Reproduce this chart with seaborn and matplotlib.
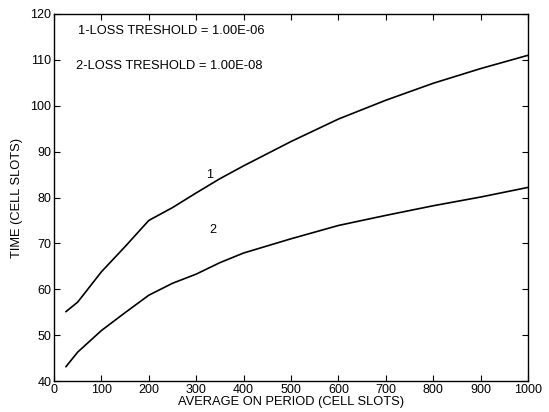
import matplotlib
matplotlib.use("Agg")
import matplotlib.pyplot as plt
import seaborn as sns
import pandas as pd

x_vals = [25, 50, 100, 150, 200, 250, 300, 350, 400, 500, 600, 700, 800, 900, 1000]
y_curve1 = [55.1, 57.2, 63.8, 69.3, 75.0, 77.8, 81.0, 84.1, 86.9, 92.2, 97.1, 101.2, 104.9, 108.1, 111.0]
y_curve2 = [43.1, 46.3, 51.0, 54.9, 58.7, 61.3, 63.3, 65.8, 67.9, 71.0, 73.9, 76.1, 78.2, 80.1, 82.2]
curve_names = ["1", "2"]
x_ticks = [0, 100, 200, 300, 400, 500, 600, 700, 800, 900, 1000]
y_ticks = [40, 50, 60, 70, 80, 90, 100, 110, 120]

df = pd.DataFrame({
    "x": x_vals * 2,
    "y": y_curve1 + y_curve2,
    "curve": [curve_names[0]] * len(x_vals) + [curve_names[1]] * len(x_vals),
})

sns.set_theme(style="ticks")
plt.rcParams["font.family"] = ["Liberation Sans", "DejaVu Sans"]
plt.rcParams["text.color"] = "black"
plt.rcParams["axes.labelcolor"] = "black"

fig = plt.figure(figsize=(5.49, 4.12), dpi=100)
ax = fig.add_axes([54 / 549, 31 / 412, 474 / 549, 367 / 412])

sns.lineplot(data=df, x="x", y="y", units="curve", estimator=None,
             color="black", linewidth=1.2, ax=ax, legend=False)

ax.set_xlim(0, 1000)
ax.set_ylim(40, 120)
ax.set_xticks(x_ticks)
ax.set_yticks(y_ticks)
ax.tick_params(direction="in", length=4, width=0.8, top=True, right=True,
               labelsize=9, colors="black", pad=2)
for s in ax.spines.values():
    s.set_visible(True)
    s.set_color("black")
    s.set_linewidth(1.0)

ax.set_xlabel("AVERAGE ON PERIOD (CELL SLOTS)", fontsize=9.3, labelpad=0, color="black")
ax.set_ylabel("TIME (CELL SLOTS)", fontsize=9.3, labelpad=5, color="black")

ax.text(51, 116.3, "1-LOSS TRESHOLD = 1.00E-06", fontsize=9.3, va="center", ha="left", color="black")
ax.text(47, 108.6, "2-LOSS TRESHOLD = 1.00E-08", fontsize=9.3, va="center", ha="left", color="black")
ax.text(328, 84.9, curve_names[0], fontsize=9, va="center", ha="center", color="black")
ax.text(334, 72.9, curve_names[1], fontsize=9, va="center", ha="center", color="black")

fig.savefig("out.png", dpi=100)
